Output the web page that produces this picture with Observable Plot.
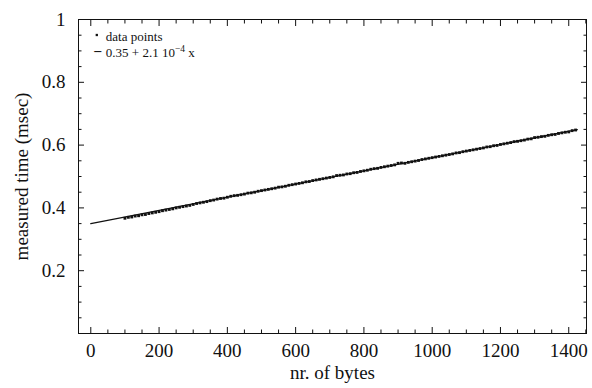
<!DOCTYPE html>
<html><head><meta charset="utf-8">
<script src="https://cdn.jsdelivr.net/npm/d3@7"></script>
<script src="https://cdn.jsdelivr.net/npm/@observablehq/plot@0.6"></script>
<style>body{margin:0;background:#fff}</style>
</head><body><div id="chart"></div>
<script>
const bytes = [100,110,120,130,140,150,160,170,180,190,200,210,220,230,240,250,260,270,280,290,
300,310,320,330,340,350,360,370,380,390,400,410,420,430,440,450,460,470,480,490,
500,510,520,530,540,550,560,570,580,590,600,610,620,630,640,650,660,670,680,690,
700,710,720,730,740,750,760,770,780,790,800,810,820,830,840,850,860,870,880,890,
900,910,920,930,940,950,960,970,980,990,1000,1010,1020,1030,1040,1050,1060,1070,1080,1090,
1100,1110,1120,1130,1140,1150,1160,1170,1180,1190,1200,1210,1220,1230,1240,1250,1260,1270,1280,1290,
1300,1310,1320,1330,1340,1350,1360,1370,1380,1390,1400,1410,1420];
const times = [0.367,0.370,0.371,0.374,0.375,0.378,0.379,0.382,0.384,0.386,0.388,0.391,0.393,0.395,0.397,0.400,0.402,0.404,0.406,0.408,
0.411,0.414,0.416,0.418,0.420,0.423,0.425,0.428,0.430,0.431,0.434,0.437,0.439,0.440,0.442,0.444,0.447,0.448,0.450,0.453,
0.455,0.457,0.459,0.461,0.463,0.466,0.467,0.469,0.472,0.474,0.476,0.478,0.480,0.483,0.484,0.487,0.489,0.491,0.493,0.495,
0.497,0.499,0.503,0.504,0.505,0.508,0.509,0.512,0.513,0.516,0.518,0.520,0.523,0.525,0.526,0.529,0.531,0.533,0.535,0.537,
0.542,0.543,0.542,0.545,0.547,0.549,0.551,0.554,0.556,0.558,0.560,0.562,0.564,0.566,0.568,0.570,0.572,0.575,0.576,0.579,
0.581,0.583,0.585,0.587,0.589,0.591,0.594,0.595,0.598,0.599,0.602,0.604,0.606,0.608,0.611,0.612,0.614,0.616,0.619,0.620,
0.624,0.625,0.627,0.628,0.631,0.633,0.634,0.637,0.639,0.641,0.642,0.646,0.648];
const fitIntercept = 0.35;
const fitSlope = 2.1e-4;
const fitBytes = [0, 1425];
const xMajor = [0,200,400,600,800,1000,1200,1400];
const xMinor = [50,100,150,250,300,350,450,500,550,650,700,750,850,900,950,1050,1100,1150,1250,1300,1350,1450];
const yMajor = [0,0.2,0.4,0.6,0.8,1];
const yLabeled = [0.2,0.4,0.6,0.8,1];
const yMinor = [0.05,0.1,0.15,0.25,0.3,0.35,0.45,0.5,0.55,0.65,0.7,0.75,0.85,0.9,0.95];
const legendLabels = ["data points", "0.35 + 2.1 10", "\u22124", " x"];

const points = bytes.map((b, i) => ({b, t: times[i]}));
const fit = fitBytes.map(b => ({b, t: fitIntercept + fitSlope * b}));
const blank = () => "";
const ink = "#111";

const chart = Plot.plot({
  width: 592, height: 388,
  marginLeft: 78, marginRight: 6, marginTop: 19, marginBottom: 55,
  style: {fontFamily: "'Liberation Serif', 'Times New Roman', serif", fontSize: "19px", background: "#fff", color: ink},
  x: {domain: [-36, 1452]},
  y: {domain: [0, 1]},
  marks: [
    Plot.frame({stroke: ink, strokeWidth: 1}),
    Plot.axisX({anchor: "bottom", ticks: xMajor, tickSize: -6, tickFormat: blank, label: null}),
    Plot.axisX({anchor: "top", ticks: xMajor, tickSize: -6, tickFormat: blank, label: null}),
    Plot.axisX({anchor: "bottom", ticks: xMinor, tickSize: -3.5, tickFormat: blank, label: null}),
    Plot.axisX({anchor: "top", ticks: xMinor, tickSize: -3.5, tickFormat: blank, label: null}),
    Plot.axisY({anchor: "left", ticks: yMajor, tickSize: -6, tickFormat: blank, label: null}),
    Plot.axisY({anchor: "right", ticks: yMajor, tickSize: -6, tickFormat: blank, label: null}),
    Plot.axisY({anchor: "left", ticks: yMinor, tickSize: -3.5, tickFormat: blank, label: null}),
    Plot.axisY({anchor: "right", ticks: yMinor, tickSize: -3.5, tickFormat: blank, label: null}),
    Plot.axisX({anchor: "bottom", ticks: xMajor, tickSize: 0, tickPadding: 10, tickFormat: d => String(d), label: null, fontSize: 19}),
    Plot.axisY({anchor: "left", ticks: yLabeled, tickSize: 0, tickPadding: 13, tickFormat: d => String(d), label: null, fontSize: 19}),
    Plot.text(["nr. of bytes"], {frameAnchor: "bottom", dy: 39, textAnchor: "middle", lineAnchor: "middle", fontSize: 19, fill: ink}),
    Plot.text(["measured time (msec)"], {frameAnchor: "left", dx: -57, rotate: -90, textAnchor: "middle", lineAnchor: "middle", fontSize: 19, fill: ink}),
    Plot.line(fit, {x: "b", y: "t", stroke: ink, strokeWidth: 1.3}),
    Plot.dot(points, {x: "b", y: "t", symbol: "square", r: 1.6, fill: ink}),
    Plot.dot([legendLabels[0]], {frameAnchor: "top-left", dx: 18.3, dy: 15.5, symbol: "square", r: 1.3, fill: ink}),
    Plot.text(["\u2013"], {frameAnchor: "top-left", dx: 15.8, dy: 31.5, fontSize: 14, fontWeight: "bold", lineAnchor: "middle", fill: ink}),
    Plot.text([legendLabels[0]], {frameAnchor: "top-left", dx: 27.3, dy: 17, textAnchor: "start", lineAnchor: "middle", fontSize: 13, fill: ink}),
    Plot.text([legendLabels[1]], {frameAnchor: "top-left", dx: 27.3, dy: 33.3, textAnchor: "start", lineAnchor: "middle", fontSize: 13, fill: ink, className: "fitlabel"})
  ]
});
document.getElementById("chart").appendChild(chart);
// add the superscript exponent and trailing " x" as real tspans
chart.querySelectorAll("text").forEach(t => {
  if (t.textContent === legendLabels[1]) {
    const ns = "http://www.w3.org/2000/svg";
    const sup = document.createElementNS(ns, "tspan");
    sup.setAttribute("dy", "-5");
    sup.setAttribute("font-size", "9.5");
    sup.textContent = legendLabels[2];
    const tail = document.createElementNS(ns, "tspan");
    tail.setAttribute("dy", "5");
    tail.textContent = legendLabels[3];
    t.appendChild(sup);
    t.appendChild(tail);
  }
});
</script>
</body></html>
